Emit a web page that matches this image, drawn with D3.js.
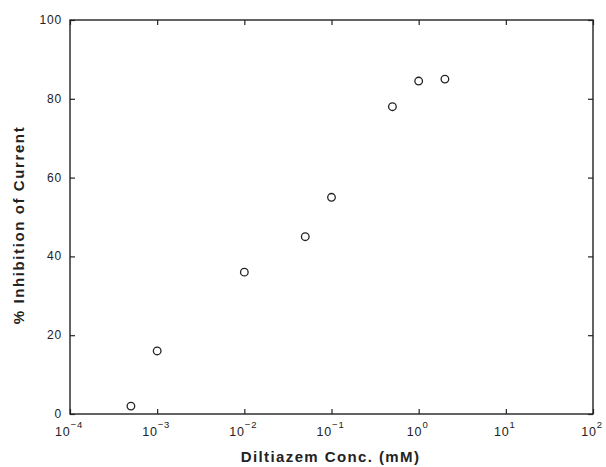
<!DOCTYPE html>
<html><head><meta charset="utf-8">
<script src="https://cdn.jsdelivr.net/npm/d3@7"></script>
<style>body{margin:0;background:#fff}</style>
</head><body>
<svg id="chart" width="606" height="467"></svg>
<script>
const concentrations = [0.0005, 0.001, 0.01, 0.05, 0.1, 0.5, 1, 2];
const inhibition = [2, 16, 36, 45, 55, 78, 84.5, 85];
const xTickExponents = [-4, -3, -2, -1, 0, 1, 2];
const yTicks = [0, 20, 40, 60, 80, 100];
const xTitle = "Diltiazem Conc. (mM)";
const yTitle = "% Inhibition of Current";

const svg = d3.select("#chart");
const L = 70, R = 593, T = 20, B = 414;
const x = d3.scaleLog().domain([1e-4, 1e2]).range([L, R]);
const y = d3.scaleLinear().domain([0, 100]).range([B, T]);
const ink = "#222";
const font = "'Liberation Sans', Arial, Helvetica, sans-serif";

// frame
svg.append("rect").attr("x", L).attr("y", T).attr("width", R - L).attr("height", B - T)
  .attr("fill", "none").attr("stroke", ink).attr("stroke-width", 1.4);

const xTickVals = xTickExponents.map(e => Math.pow(10, e));
const xb = svg.append("g").attr("transform", `translate(0,${B})`)
  .call(d3.axisBottom(x).tickValues(xTickVals).tickSizeInner(-5).tickSizeOuter(0).tickFormat(""));
const xt = svg.append("g").attr("transform", `translate(0,${T})`)
  .call(d3.axisTop(x).tickValues(xTickVals).tickSizeInner(-5).tickSizeOuter(0).tickFormat(""));
const yl = svg.append("g").attr("transform", `translate(${L},0)`)
  .call(d3.axisLeft(y).tickValues(yTicks).tickSizeInner(-5).tickSizeOuter(0).tickFormat(""));
const yr = svg.append("g").attr("transform", `translate(${R},0)`)
  .call(d3.axisRight(y).tickValues(yTicks).tickSizeInner(-5).tickSizeOuter(0).tickFormat(""));
[xb, xt, yl, yr].forEach(g => {
  g.select(".domain").remove();
  g.selectAll("line").attr("stroke", ink).attr("stroke-width", 1.2);
});

// y tick labels
svg.append("g").selectAll("text").data(yTicks).join("text")
  .attr("x", L - 8).attr("y", d => y(d) + 4)
  .attr("text-anchor", "end").attr("font-family", font).attr("font-size", 12)
  .attr("letter-spacing", 0.8)
  .attr("fill", ink).text(d => d);

// x tick labels with superscript exponents
const xl = svg.append("g").selectAll("text").data(xTickExponents).join("text")
  .attr("x", d => x(Math.pow(10, d)) - 1).attr("y", B + 22)
  .attr("text-anchor", "middle").attr("font-family", font).attr("font-size", 12.5)
  .attr("letter-spacing", 0.8)
  .attr("fill", ink);
xl.append("tspan").text("10");
xl.append("tspan").attr("dy", -8).attr("font-size", 9.5)
  .text(d => d < 0 ? "\u2212" + Math.abs(d) : String(d));

// axis titles
svg.append("text").attr("x", (L + R) / 2 - 1).attr("y", 462).attr("text-anchor", "middle")
  .attr("font-family", font).attr("font-size", 15).attr("font-weight", "bold")
  .attr("letter-spacing", 1.4)
  .attr("fill", ink).text(xTitle);
svg.append("text").attr("transform", `translate(24,${(T + B) / 2 + 8}) rotate(-90)`)
  .attr("text-anchor", "middle")
  .attr("font-family", font).attr("font-size", 15).attr("font-weight", "bold")
  .attr("letter-spacing", 1.6)
  .attr("fill", ink).text(yTitle);

// points
svg.append("g").selectAll("circle").data(concentrations.map((c, i) => [c, inhibition[i]]))
  .join("circle")
  .attr("cx", d => x(d[0])).attr("cy", d => y(d[1])).attr("r", 3.8)
  .attr("fill", "none").attr("stroke", ink).attr("stroke-width", 1.3);
</script>
</body></html>
